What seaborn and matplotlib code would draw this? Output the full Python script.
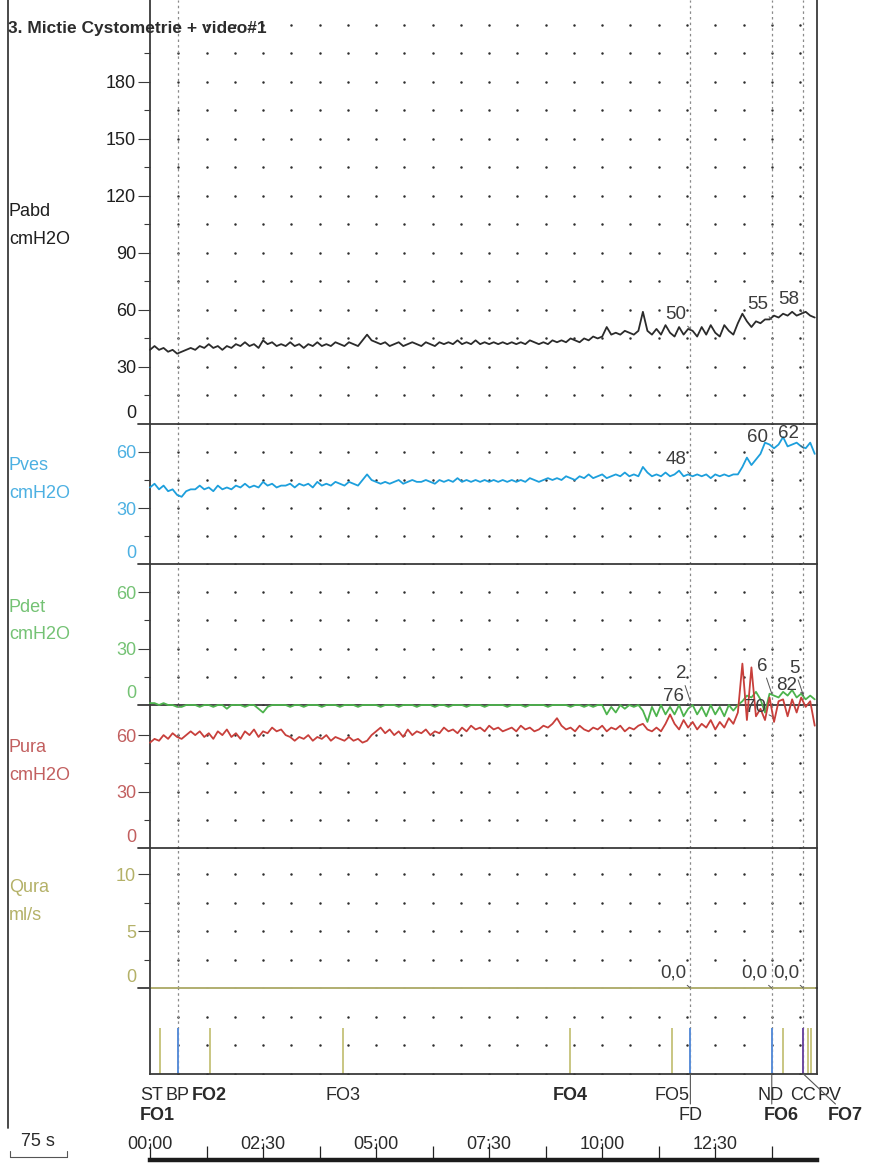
import numpy as np
import matplotlib
matplotlib.use("Agg")
import matplotlib.pyplot as plt
from matplotlib.lines import Line2D
import seaborn as sns

# ------------------------------------------------------------------
# Recorded channels, one sample every 6 s (0 .. 882 s)
# ------------------------------------------------------------------
SAMPLE_STEP_S = 6

PABD = [39, 41, 39, 40, 38, 39, 37, 38, 39, 40,
        39, 41, 40, 42, 40, 41, 39, 41, 40, 42,
        41, 43, 41, 42, 40, 44, 42, 43, 41, 42,
        41, 43, 41, 42, 40, 42, 41, 43, 41, 42,
        41, 43, 42, 41, 43, 42, 41, 44, 47, 44,
        43, 42, 43, 41, 42, 43, 41, 42, 43, 42,
        41, 43, 42, 41, 43, 42, 43, 42, 44, 42,
        43, 42, 44, 42, 43, 42, 43, 42, 43, 42,
        43, 42, 43, 42, 44, 43, 42, 43, 42, 44,
        43, 44, 43, 45, 44, 43, 45, 44, 46, 45,
        46, 51, 47, 48, 47, 49, 48, 47, 49, 59,
        49, 47, 50, 47, 52, 48, 46, 51, 47, 50,
        49, 46, 51, 47, 52, 48, 46, 52, 49, 47,
        53, 58, 54, 51, 54, 53, 55, 55, 57, 56,
        58, 57, 59, 57, 58, 59, 57, 56]

PVES = [41, 43, 40, 42, 39, 40, 37, 36, 39, 40,
        40, 42, 40, 41, 39, 42, 40, 41, 40, 42,
        41, 43, 41, 42, 41, 44, 42, 43, 41, 42,
        42, 43, 41, 43, 42, 43, 41, 44, 42, 43,
        42, 44, 43, 42, 44, 43, 42, 45, 48, 45,
        44, 43, 44, 43, 44, 45, 43, 44, 45, 44,
        44, 45, 44, 43, 45, 44, 45, 44, 46, 44,
        45, 44, 45, 44, 45, 44, 45, 44, 45, 44,
        45, 44, 45, 44, 46, 45, 44, 45, 46, 45,
        46, 45, 47, 46, 45, 47, 46, 48, 46, 47,
        48, 46, 47, 48, 47, 49, 47, 48, 47, 52,
        49, 47, 48, 47, 49, 47, 48, 50, 47, 48,
        47, 48, 47, 48, 46, 48, 47, 48, 47, 48,
        48, 52, 57, 53, 56, 59, 65, 64, 62, 64,
        68, 63, 64, 65, 63, 62, 65, 59]

PDET = [1, 1, 0, 1, 0, 0, -1, -1, 0, 0,
        0, -1, 0, 0, -1, 0, 0, -2, 0, 0,
        0, -1, 0, 0, -2, -4, -1, 0, 0, 0,
        0, -1, 0, 0, -1, 0, 0, 0, -1, 0,
        0, 0, -1, 0, 0, 0, -1, 0, 0, 0,
        0, -1, 0, 0, 0, -1, 0, 0, 0, -1,
        0, 0, 0, -1, 0, 0, -1, 0, 0, 0,
        -1, 0, 0, 0, -1, 0, 0, 0, 0, -1,
        0, 0, 0, -1, 0, 0, 0, 0, -1, 0,
        0, 0, 0, -1, 0, 0, -1, 0, -1, 0,
        0, -5, -1, -4, 0, -2, 0, -1, 0, -3,
        -9, -1, -6, 0, -5, -1, -5, 0, -6, -2,
        0, -5, -1, -6, 0, -5, -1, -6, 0, -3,
        0, 2, 5, 4, 7, 3, -4, 6, 5, 4,
        7, 5, 8, 4, 6, 3, 5, 3]

PURA = [56, 58, 57, 60, 58, 61, 59, 58, 60, 62,
        60, 62, 59, 61, 58, 62, 60, 63, 59, 61,
        58, 62, 60, 63, 59, 62, 61, 64, 62, 63,
        60, 59, 57, 59, 58, 60, 57, 59, 58, 60,
        57, 59, 58, 57, 59, 57, 58, 56, 57, 60,
        62, 64, 61, 63, 60, 62, 59, 63, 60, 62,
        61, 63, 60, 62, 61, 64, 62, 63, 61, 64,
        62, 65, 63, 64, 62, 65, 63, 64, 62, 63,
        64, 62, 65, 63, 64, 62, 63, 65, 64, 66,
        69, 65, 63, 64, 62, 65, 63, 62, 64, 63,
        65, 62, 64, 63, 65, 62, 64, 63, 65, 66,
        63, 62, 64, 62, 66, 71, 66, 63, 68, 64,
        67, 63, 66, 64, 68, 63, 67, 64, 69, 66,
        72, 98, 68, 96, 70, 74, 68, 80, 67, 78,
        79, 70, 79, 72, 80, 75, 78, 65]

QURA_TIME = [0, 882]
QURA = [0.0, 0.0]

# Event markers (s)
EVENT_NAMES = ["ST", "FO1", "BP", "FO2", "FO3", "FO4", "FO5", "FD",
               "ND", "FO6", "CC", "PV", "FO7"]
EVENT_TIMES = [13, 13, 37, 80, 256, 557, 693, 717, 825, 840, 867, 873, 877]

# Cursors with the values read out on each channel
CURSOR_NAMES = ["BP", "FD", "ND", "CC"]
READOUT_TIMES = [717, 825, 867]
PABD_AT = [50, 55, 58]
PVES_AT = [48, 60, 62]
PDET_AT = [2, 6, 5]
PURA_AT = [76, 70, 82]
QURA_AT = [0.0, 0.0, 0.0]

TIME_TICKS = [0, 150, 300, 450, 600, 750]
TIME_LABELS = ["00:00", "02:30", "05:00", "07:30", "10:00", "12:30"]

TITLE = "3. Mictie Cystometrie + video#1"

# ------------------------------------------------------------------
# Layout (figure pixels) and styles
# ------------------------------------------------------------------
W, H = 878, 1164
X0, X1 = 150, 817
T_MAX = 885
AXC = "#3a3a3a"
DOT_C = "#2e2e2e"
CURSOR_C = "#8a8a8a"

sns.set_theme(style="white")
plt.rcParams["font.family"] = ["Liberation Sans", "DejaVu Sans"]
NARROW = ["Liberation Sans Narrow", "Liberation Sans", "DejaVu Sans"]


def rect(top, bottom):
    return [X0 / W, 1 - bottom / H, (X1 - X0) / W, (bottom - top) / H]


fig = plt.figure(figsize=(W / 100, H / 100), dpi=100)
fig.patch.set_facecolor("white")

cursor_times = [EVENT_TIMES[EVENT_NAMES.index(n)] for n in CURSOR_NAMES]
dot_x = np.arange(37.5, T_MAX, 37.5)

channels = [
    dict(name="Pabd", unit="cmH2O", y=PABD, t=None, top=0, bottom=424, ylim=(0, 223),
         major=[30, 60, 90, 120, 150, 180], minor=[15, 45, 75, 105, 135, 165, 195],
         rows=np.arange(0, 211, 15), color="#2b2b2b", lab="#1e1e1e", lab_y=(211, 240),
         readout=PABD_AT, fmt="{:.0f}", off=(-4, 6)),
    dict(name="Pves", unit="cmH2O", y=PVES, t=None, top=424, bottom=564, ylim=(0, 75),
         major=[30, 60], minor=[15, 45], rows=np.arange(0, 61, 15),
         color="#1d9fdc", lab="#4cb0e2", lab_y=(465, 494), readout=PVES_AT, fmt="{:.0f}",
         off=(-4, 6)),
    dict(name="Pdet", unit="cmH2O", y=PDET, t=None, top=564, bottom=705, ylim=(0, 75),
         major=[30, 60], minor=[15, 45], rows=np.arange(0, 61, 15),
         color="#4db34d", lab="#74c274", lab_y=(607, 635), readout=PDET_AT, fmt="{:.0f}",
         off=(-4, 19)),
    dict(name="Pura", unit="cmH2O", y=PURA, t=None, top=705, bottom=848, ylim=(0, 76),
         major=[30, 60], minor=[15, 45], rows=np.arange(0, 61, 15),
         color="#c83f3b", lab="#c25f5f", lab_y=(748, 776), readout=PURA_AT, fmt="{:.0f}",
         off=(-6, 0)),
    dict(name="Qura", unit="ml/s", y=QURA, t=QURA_TIME, top=848, bottom=988, ylim=(0, 12.3),
         major=[5, 10], minor=[2.5, 7.5], rows=np.arange(0, 10.1, 2.5),
         color="#bdbb78", lab="#b4b168", lab_y=(888, 915), readout=QURA_AT, fmt="{:.1f}",
         off=(-4, 6)),
]

for ch in channels:
    ax = fig.add_axes(rect(ch["top"], ch["bottom"]))
    ax.set_facecolor("none")
    ax.set_xlim(0, T_MAX)
    ax.set_ylim(*ch["ylim"])
    for s in ("top", "bottom"):
        ax.spines[s].set_visible(False)
    for s in ("left", "right"):
        ax.spines[s].set_color(AXC)
        ax.spines[s].set_linewidth(1.3)
    ax.set_xticks([])
    ax.set_yticks(ch["major"])
    ax.set_yticks(ch["minor"], minor=True)
    ax.set_yticklabels([f"{v:g}" for v in ch["major"]])
    ax.tick_params(axis="y", which="major", left=True, length=8.6, width=0.8,
                   color=AXC, labelcolor=ch["lab"], labelsize=13, pad=1.5)
    ax.tick_params(axis="y", which="minor", left=True, length=4.3, width=0.8, color=AXC)

    # zero label sits just above the channel baseline
    ax.annotate("0", xy=(0, 0), xycoords=("axes fraction", "data"), xytext=(-14, 11),
                textcoords="offset pixels", ha="right", va="center",
                color=ch["lab"], fontsize=13, annotation_clip=False)
    # channel baseline / separator
    ax.plot([-12 / (X1 - X0), 1], [0, 0], transform=ax.get_yaxis_transform(),
            color=AXC, lw=1.3, clip_on=False, zorder=2)

    # dotted grid
    gx, gy = np.meshgrid(dot_x, ch["rows"])
    ax.scatter(gx.ravel(), gy.ravel(), s=3.2, color=DOT_C, linewidths=0, zorder=1)

    # cursors
    for ct in cursor_times:
        ax.axvline(ct, color=CURSOR_C, lw=0.9, ls=(0, (2, 2.5)), zorder=1)

    # trace
    t = ch["t"] if ch["t"] is not None else np.arange(len(ch["y"])) * SAMPLE_STEP_S
    sns.lineplot(x=t, y=ch["y"], ax=ax, color=ch["color"], lw=1.3,
                 estimator=None, sort=False, clip_on=False, zorder=3)
    ax.set_xlabel("")
    ax.set_ylabel("")

    # cursor read-outs
    for rt, rv in zip(READOUT_TIMES, ch["readout"]):
        txt = ch["fmt"].format(rv).replace(".", ",")
        ax.annotate(txt, xy=(rt, rv), xytext=ch["off"], textcoords="offset pixels",
                    ha="right", va="bottom", fontsize=13.5, color="#3c3c3c",
                    annotation_clip=False, zorder=5,
                    arrowprops=dict(arrowstyle="-", color="#555555", lw=0.7,
                                    shrinkA=0, shrinkB=0))

    # channel name and unit
    fig.text(9 / W, 1 - ch["lab_y"][0] / H, ch["name"], color=ch["lab"],
             fontsize=13, va="center", ha="left")
    fig.text(9 / W, 1 - ch["lab_y"][1] / H, ch["unit"], color=ch["lab"],
             fontsize=13, va="center", ha="left")

# ------------------------------------------------------------------
# Event strip
# ------------------------------------------------------------------
ax_ev = fig.add_axes(rect(988, 1074))
ax_ev.set_facecolor("none")
ax_ev.set_xlim(0, T_MAX)
ax_ev.set_ylim(0, 3)
ax_ev.set_xticks([])
ax_ev.set_yticks([])
ax_ev.spines["top"].set_visible(False)
for s in ("left", "right", "bottom"):
    ax_ev.spines[s].set_color(AXC)
    ax_ev.spines[s].set_linewidth(1.3)
gx, gy = np.meshgrid(dot_x, [0, 1, 2])
ax_ev.scatter(gx.ravel(), gy.ravel(), s=3.2, color=DOT_C, linewidths=0, zorder=1)
for ct in cursor_times:
    ax_ev.axvline(ct, color=CURSOR_C, lw=0.9, ls=(0, (2, 2.5)), zorder=1)

event_colors = {"BP": "#5a8ed8", "FD": "#5a8ed8", "ND": "#5a8ed8", "CC": "#6d4aa0"}
for name, et in zip(EVENT_NAMES, EVENT_TIMES):
    ax_ev.vlines(et, 0, 1.6, colors=event_colors.get(name, "#c9c682"), lw=1.4, zorder=2)

bold_names = {"FO1", "FO2", "FO4", "FO6", "FO7"}
label_layout = {  # name: (label time position, row, horizontal alignment)
    "ST": (-13, 0, "left"), "FO1": (-13, 1, "left"), "BP": (37, 0, "center"),
    "FO2": (78, 0, "center"), "FO3": (256, 0, "center"), "FO4": (557, 0, "center"),
    "FO5": (692, 0, "center"), "FD": (717, 1, "center"), "ND": (824, 0, "center"),
    "FO6": (837, 1, "center"), "CC": (866, 0, "center"), "PV": (902, 0, "center"),
    "FO7": (923, 1, "center"),
}
row_offset = [-22, -42]
for name in EVENT_NAMES:
    lt, row, ha = label_layout[name]
    ax_ev.annotate(name, xy=(lt, 0), xycoords=("data", "axes fraction"),
                   xytext=(0, row_offset[row]), textcoords="offset pixels",
                   ha=ha, va="center", fontsize=13, family=NARROW,
                   fontweight="bold" if name in bold_names else "normal",
                   color="#2a2a2a", annotation_clip=False)

# leader lines from the strip to the labels below
for name, dx in (("FD", 0), ("ND", 0), ("CC", 32)):
    et = EVENT_TIMES[EVENT_NAMES.index(name)]
    ax_ev.annotate("", xy=(et, 0), xycoords=("data", "axes fraction"),
                   xytext=(dx, -30), textcoords="offset pixels", annotation_clip=False,
                   arrowprops=dict(arrowstyle="-", color="#555555", lw=0.8,
                                   shrinkA=0, shrinkB=0))

# ------------------------------------------------------------------
# Time axis
# ------------------------------------------------------------------
ax_t = fig.add_axes([X0 / W, 1 - 1160 / H, (X1 - X0) / W, 0.0004])
ax_t.set_facecolor("none")
ax_t.set_xlim(0, T_MAX)
ax_t.set_yticks([])
for s in ("left", "right", "top"):
    ax_t.spines[s].set_visible(False)
ax_t.spines["bottom"].set_linewidth(3.2)
ax_t.spines["bottom"].set_color("#1c1c1c")
ax_t.set_xticks(TIME_TICKS)
ax_t.set_xticklabels(TIME_LABELS)
ax_t.set_xticks([v + 75 for v in TIME_TICKS], minor=True)
ax_t.tick_params(axis="x", which="both", direction="in", bottom=True, top=False,
                 labelbottom=False, labeltop=True, width=0.9, color="#222222",
                 labelsize=13, pad=5, labelcolor="#2a2a2a")
ax_t.tick_params(axis="x", which="major", length=12)
ax_t.tick_params(axis="x", which="minor", length=10)
for lbl in ax_t.get_xticklabels():
    lbl.set_family(NARROW)

# scale bar for 75 s
fig.text(38 / W, 1 - 1142 / H, "75 s", fontsize=13, ha="center", va="center",
         color="#2a2a2a", family=NARROW)
for xs, ys in (([10, 67], [1157, 1157]), ([10, 10], [1151, 1157]), ([67, 67], [1151, 1157])):
    fig.add_artist(Line2D([x / W for x in xs], [1 - y / H for y in ys],
                          color="#555555", lw=0.8))

# outer left border and title
fig.add_artist(Line2D([8 / W, 8 / W], [1, 1 - 1128 / H], color=AXC, lw=1.3))
fig.text(8 / W, 1 - 28 / H, TITLE, fontsize=12.5, fontweight="bold",
         color="#2c2c2c", ha="left", va="center", zorder=10)

fig.savefig("out.png", dpi=100, facecolor="white")
